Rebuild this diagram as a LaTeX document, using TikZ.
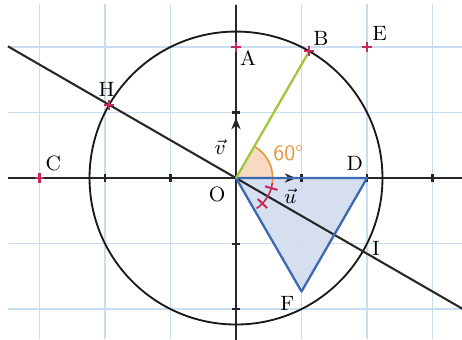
\documentclass[tikz,border=0pt]{standalone}
\usetikzlibrary{arrows.meta,calc}
\definecolor{gridblue}{RGB}{200,222,240}
\definecolor{markred}{RGB}{200,40,90}
\definecolor{triblue}{RGB}{60,105,175}
\definecolor{trifill}{RGB}{208,220,238}
\definecolor{lgreen}{RGB}{160,200,60}
\definecolor{aorange}{RGB}{232,150,60}
\definecolor{afill}{RGB}{248,218,195}
\begin{document}
\begin{tikzpicture}[x=1cm,y=1cm,font=\fontsize{9}{11}\selectfont,
  lbl/.style={inner sep=1pt},
  crossmark/.style={markred,line width=0.9pt},
  axisline/.style={line width=0.9pt,black!85},
  tickline/.style={line width=0.9pt,black!85},
  gridline/.style={gridblue,line width=0.5pt}]
\useasboundingbox (-3.603,-2.458) rectangle (3.450,2.718);
% grid
\foreach \x in {-3,...,3} \draw[gridline] (\x,-2.46) -- (\x,2.65);
\foreach \y in {-2,...,2} \draw[gridline] (-3.48,\y) -- (3.45,\y);
% points
\coordinate (O) at (0,0);
\coordinate (A) at (0,2);
\coordinate (B) at (60:2.2361);
\coordinate (C) at (-3,0);
\coordinate (D) at (2,0);
\coordinate (E) at (2,2);
\coordinate (F) at (1,-1.7321);
\coordinate (H) at (150:2.2361);
\coordinate (I) at (-30:2.2361);
\coordinate (U) at (0.92,0);
\coordinate (V) at (0,0.92);
\coordinate (L1) at (150:4.02);
\coordinate (L2) at (-30:4.3);
\coordinate (XL) at (-3.48,0);
\coordinate (XR) at (3.5,0);
\coordinate (YB) at (0,-2.5);
\coordinate (YT) at (0,2.64);
% triangle fill and angle wedge
\fill[trifill,opacity=0.9] (O) -- (D) -- (F) -- cycle;
\fill[afill] (O) -- (0:0.56) arc[start angle=0,end angle=60,radius=0.56] -- cycle;
\draw[aorange,line width=0.7pt] (-8:0.56) arc[start angle=-8,end angle=60,radius=0.56];
% axes
\draw[axisline] (XL) -- (XR);
\draw[axisline] (YB) -- (YT);
\foreach \x in {-2,-1,1,2,3} \draw[tickline] (\x,-0.06) -- (\x,0.06);
\foreach \y in {-2,-1,1} \draw[tickline] (-0.06,\y) -- (0.06,\y);
\draw[axisline,-{Stealth[length=5pt,width=4pt]}] (O) -- (U);
\draw[axisline,-{Stealth[length=5pt,width=4pt]}] (O) -- (V);
% circle
\draw[line width=0.8pt,black!90] (O) circle[radius=2.2361];
% line through H and I
\draw[line width=0.9pt,black!85] (L1) -- (L2);
% triangle edges
\draw[triblue,line width=1pt,line join=round] (O) -- (D) -- (F) -- cycle;
% green segment
\draw[lgreen,line width=1pt] (O) -- (B);
% equal-angle marks
\draw[markred,line width=0.7pt] (-8:0.56) arc[start angle=-8,end angle=-56,radius=0.56];
\draw[crossmark] (-16:0.46) -- (-16:0.66);
\draw[crossmark] (-44:0.46) -- (-44:0.66);
% crosses
\foreach \p in {A,B,C,E,H}
  \draw[crossmark] ($(\p)+(-0.075,0)$) -- ($(\p)+(0.075,0)$) ($(\p)+(0,-0.075)$) -- ($(\p)+(0,0.075)$);
% labels
\node[lbl,anchor=north west] (lA) at ($(A)+(0.02,-0.02)$) {A};
\node[lbl,anchor=south west] (lB) at ($(B)+(0.02,0.05)$) {B};
\node[lbl,anchor=south west] (lC) at ($(C)+(0.05,0.07)$) {C};
\node[lbl,anchor=south east] (lD) at ($(D)+(-0.02,0.07)$) {D};
\node[lbl,anchor=south west] (lE) at ($(E)+(0.04,0.05)$) {E};
\node[lbl,anchor=south] (lH) at ($(H)+(-0.04,0.08)$) {H};
\node[lbl,anchor=west] (lI) at ($(I)+(0.1,0.05)$) {I};
\node[lbl,anchor=north east] (lF) at ($(F)+(-0.07,-0.03)$) {F};
\node[lbl,anchor=north east] (lO) at ($(O)+(-0.12,-0.1)$) {O};
\node[lbl] (lu) at (0.83,-0.28) {$\vec{u}$};
\node[lbl] (lv) at (-0.24,0.47) {$\vec{v}$};
\node[lbl,text=aorange,font=\sffamily\fontsize{9.5}{11}\selectfont] (l60) at (0.8,0.38) {60°};
\end{tikzpicture}
\end{document}
